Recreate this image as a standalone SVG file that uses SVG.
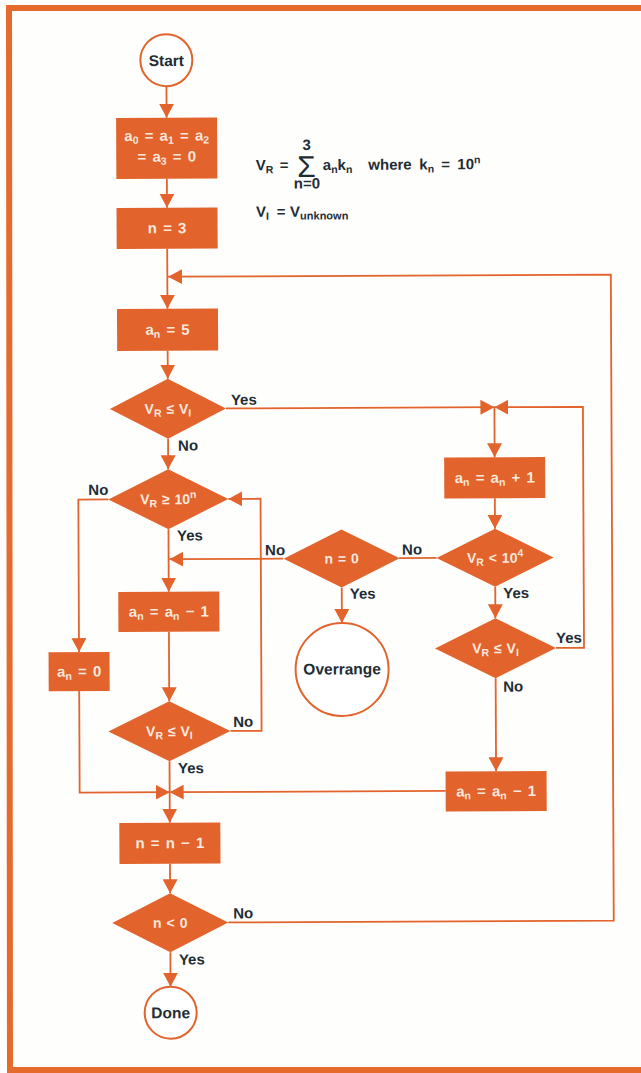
<svg xmlns="http://www.w3.org/2000/svg" width="641" height="1073" viewBox="0 0 641 1073">
<style>
.sh{fill:#E2632B}
.ln{fill:none;stroke:#E2632B;stroke-width:1.8}
.ar{marker-end:url(#ah)}
.term{fill:#fff;stroke:#E2632B;stroke-width:2}
.wt{font-family:"Liberation Sans",Arial,sans-serif;font-weight:bold;font-size:15px;fill:#f9e9de;text-anchor:middle;word-spacing:2px}
.dt{font-family:"Liberation Sans",Arial,sans-serif;font-weight:bold;font-size:14px;fill:#f9e9de;text-anchor:middle;word-spacing:1px}
.lb{font-family:"Liberation Sans",Arial,sans-serif;font-weight:bold;font-size:15px;fill:#1f2d35}
.tt{font-family:"Liberation Sans",Arial,sans-serif;font-weight:bold;font-size:15.5px;fill:#1f2d35;text-anchor:middle}
.ft{font-family:"Liberation Sans",Arial,sans-serif;font-weight:bold;font-size:15px;fill:#1f2d35}
.s{font-size:10.5px}
</style>
<defs>
<marker id="ah" markerUnits="userSpaceOnUse" markerWidth="15" markerHeight="15" refX="14" refY="7.5" orient="auto" viewBox="0 0 15 15"><path d="M0,0 L14,7.5 L0,15 Z" fill="#E2632B"/></marker>
</defs>
<rect width="641" height="1073" fill="#fefefd"/>
<path d="M641,8 L9,8 L10,1070 L641,1070" fill="none" stroke="#E66A2C" stroke-width="6"/>
<g transform="rotate(-0.26 320 536)">
<g id="connectors">
<path class="ln ar" d="M168.5,85.5 V117"/>
<path class="ln ar" d="M168.5,178 V207"/>
<path class="ln ar" d="M168.5,248 V308"/>
<path class="ln ar" d="M168.5,350 V378"/>
<path class="ln ar" d="M168.5,438 V468.5"/>
<path class="ln ar" d="M226.5,408 H495"/>
<path class="ln ar" d="M495,408 V458"/>
<path class="ln ar" d="M495,499 V529.5"/>
<path class="ln" d="M436.5,558.5 H399"/>
<path class="ln ar" d="M283,558.5 H169.3"/>
<path class="ln ar" d="M341.5,587.5 V623"/>
<path class="ln ar" d="M495,587.5 V619"/>
<path class="ln ar" d="M555.5,649 H583.5 V408 H495"/>
<path class="ln ar" d="M495,679 V772"/>
<path class="ln ar" d="M444.5,791.5 H168.5"/>
<path class="ln ar" d="M108.5,498.5 H78.5 V651"/>
<path class="ln ar" d="M78.5,690 V791.5 H168.5"/>
<path class="ln ar" d="M168.5,528.5 V591"/>
<path class="ln ar" d="M168.5,631 V700.5"/>
<path class="ln ar" d="M229.5,730.5 H260.7 V498.5 H228.5"/>
<path class="ln ar" d="M168.5,760.5 V822"/>
<path class="ln ar" d="M168.5,863 V892.5"/>
<path class="ln ar" d="M226.5,922 H612 V276 H169.3"/>
<path class="ln ar" d="M168.5,951.5 V986"/>
</g>
<g id="start"><circle class="term" cx="168.5" cy="59.5" r="26"/><text class="tt" x="168.5" y="65.3">Start</text></g>
<g id="init"><rect class="sh" x="118" y="117" width="101" height="61"/>
<text class="wt" x="168.5" y="140">a<tspan class="s" dy="3">0</tspan><tspan dy="-3"> = a</tspan><tspan class="s" dy="3">1</tspan><tspan dy="-3"> = a</tspan><tspan class="s" dy="3">2</tspan></text>
<text class="wt" x="168.5" y="161">= a<tspan class="s" dy="3">3</tspan><tspan dy="-3"> = 0</tspan></text></g>
<g id="n3"><rect class="sh" x="118" y="207" width="101" height="41"/><text class="wt" x="168.5" y="232.5">n = 3</text></g>
<g id="an5"><rect class="sh" x="118" y="308" width="101" height="42"/><text class="wt" x="168.5" y="334">a<tspan class="s" dy="3">n</tspan><tspan dy="-3"> = 5</tspan></text></g>
<g id="d1"><path class="sh" d="M168.5,378 L226.5,408 L168.5,438 L110.5,408 Z"/><text class="dt" x="168.5" y="413">V<tspan class="s" dy="3">R</tspan><tspan dy="-3"> ≤ V</tspan><tspan class="s" dy="3">I</tspan></text></g>
<g id="d2"><path class="sh" d="M168.5,468.5 L228.5,498.5 L168.5,528.5 L108.5,498.5 Z"/><text class="dt" x="168.5" y="503.5">V<tspan class="s" dy="3">R</tspan><tspan dy="-3"> ≥ 10</tspan><tspan class="s" dy="-6">n</tspan></text></g>
<g id="anp1"><rect class="sh" x="444.5" y="458" width="101" height="41"/><text class="wt" x="495" y="483.5">a<tspan class="s" dy="3">n</tspan><tspan dy="-3"> = a</tspan><tspan class="s" dy="3">n</tspan><tspan dy="-3"> + 1</tspan></text></g>
<g id="d3"><path class="sh" d="M495,529.5 L553.5,558.5 L495,587.5 L436.5,558.5 Z"/><text class="dt" x="495" y="563.5">V<tspan class="s" dy="3">R</tspan><tspan dy="-3"> &lt; 10</tspan><tspan class="s" dy="-6">4</tspan></text></g>
<g id="dn0"><path class="sh" d="M341.5,529.5 L399.5,558.5 L341.5,587.5 L283.5,558.5 Z"/><text class="dt" x="341.5" y="563.5">n = 0</text></g>
<g id="overrange"><circle class="term" cx="341.5" cy="669.5" r="46.5"/><text class="tt" x="341.5" y="674.5">Overrange</text></g>
<g id="anm1a"><rect class="sh" x="118" y="591" width="101" height="40"/><text class="wt" x="168.5" y="616">a<tspan class="s" dy="3">n</tspan><tspan dy="-3"> = a</tspan><tspan class="s" dy="3">n</tspan><tspan dy="-3"> − 1</tspan></text></g>
<g id="an0"><rect class="sh" x="48" y="651" width="61" height="39"/><text class="wt" x="78.5" y="675.5">a<tspan class="s" dy="3">n</tspan><tspan dy="-3"> = 0</tspan></text></g>
<g id="d6"><path class="sh" d="M495,619 L555.5,649 L495,679 L434.5,649 Z"/><text class="dt" x="495" y="654">V<tspan class="s" dy="3">R</tspan><tspan dy="-3"> ≤ V</tspan><tspan class="s" dy="3">I</tspan></text></g>
<g id="d4"><path class="sh" d="M168.5,700.5 L229.5,730.5 L168.5,760.5 L107.5,730.5 Z"/><text class="dt" x="168.5" y="735.5">V<tspan class="s" dy="3">R</tspan><tspan dy="-3"> ≤ V</tspan><tspan class="s" dy="3">I</tspan></text></g>
<g id="anm1b"><rect class="sh" x="444.5" y="772" width="101" height="40"/><text class="wt" x="495" y="797">a<tspan class="s" dy="3">n</tspan><tspan dy="-3"> = a</tspan><tspan class="s" dy="3">n</tspan><tspan dy="-3"> − 1</tspan></text></g>
<g id="nm1"><rect class="sh" x="118" y="822" width="101" height="41"/><text class="wt" x="168.5" y="847.5">n = n − 1</text></g>
<g id="d5"><path class="sh" d="M168.5,892.5 L226.5,922 L168.5,951.5 L110.5,922 Z"/><text class="dt" x="168.5" y="927">n &lt; 0</text></g>
<g id="done"><circle class="term" cx="168.5" cy="1012" r="26"/><text class="tt" x="168.5" y="1017.5">Done</text></g>
<g id="labels">
<text class="lb" x="231.5" y="404.5">Yes</text>
<text class="lb" x="178.5" y="450">No</text>
<text class="lb" x="88.5" y="494">No</text>
<text class="lb" x="177" y="540">Yes</text>
<text class="lb" x="265" y="555">No</text>
<text class="lb" x="402" y="555">No</text>
<text class="lb" x="349.5" y="599">Yes</text>
<text class="lb" x="503" y="599">Yes</text>
<text class="lb" x="555.5" y="644">Yes</text>
<text class="lb" x="502.5" y="692.5">No</text>
<text class="lb" x="232.3" y="726.5">No</text>
<text class="lb" x="177" y="772.7">Yes</text>
<text class="lb" x="231.5" y="918">No</text>
<text class="lb" x="177" y="964">Yes</text>
</g>
<g id="formula">
<text class="ft" x="257.5" y="170">V<tspan class="s" dy="3">R</tspan></text>
<text class="ft" x="281.5" y="170">=</text>
<text x="299" y="177" font-family="Liberation Sans, Arial, sans-serif" font-size="30" fill="#1f2d35">Σ</text>
<text class="ft" x="308.5" y="150" font-size="11" text-anchor="middle">3</text>
<text class="ft" x="308.5" y="188.5" font-size="11" text-anchor="middle">n=0</text>
<text class="ft" x="324.5" y="170">a<tspan class="s" dy="3">n</tspan><tspan dy="-3">k</tspan><tspan class="s" dy="3">n</tspan></text>
<text class="ft" x="370" y="170">where</text>
<text class="ft" x="421" y="170">k<tspan class="s" dy="3">n</tspan></text>
<text class="ft" x="443" y="170">=</text>
<text class="ft" x="459" y="170">10<tspan class="s" dy="-6">n</tspan></text>
<text class="ft" x="257.5" y="216.5">V<tspan class="s" dy="3">I</tspan></text>
<text class="ft" x="278.3" y="216.5">=</text>
<text class="ft" x="291.5" y="216.5">V<tspan font-size="11" dy="3">unknown</tspan></text>
</g>
</g>
</svg>
